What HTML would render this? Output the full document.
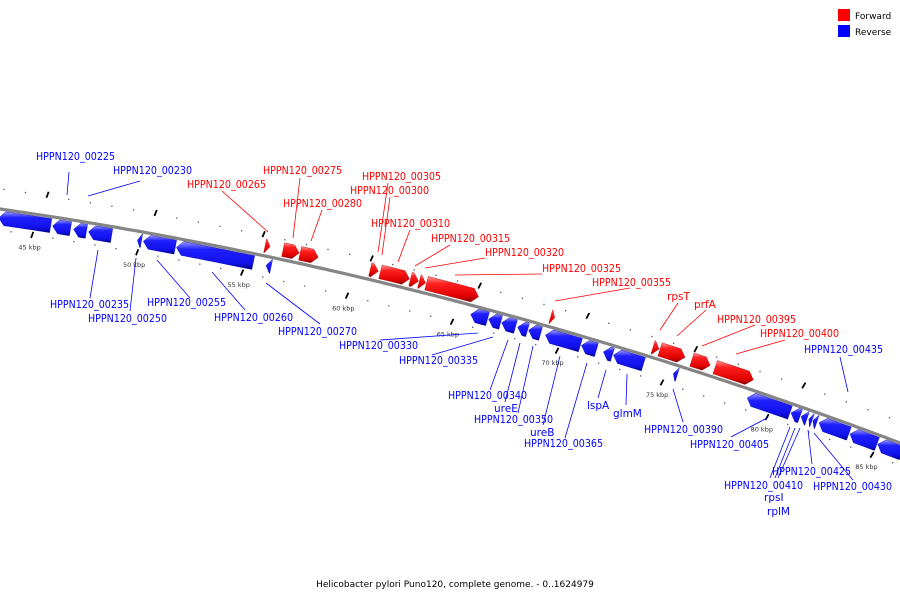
<!DOCTYPE html>
<html><head><meta charset="utf-8">
<style>
html,body{margin:0;padding:0;background:#fff;}
svg{display:block;font-family:"DejaVu Sans","Liberation Sans",sans-serif;}
</style></head>
<body>
<svg id="map" width="900" height="600" viewBox="0 0 900 600">
<defs>
<linearGradient id="gRed" x1="0" y1="0" x2="0" y2="1">
<stop offset="0" stop-color="#ff9a9a"/><stop offset="0.28" stop-color="#ff2020"/><stop offset="0.78" stop-color="#e00000"/><stop offset="1" stop-color="#800000"/>
</linearGradient>
<linearGradient id="gBlue" x1="0" y1="0" x2="0" y2="1">
<stop offset="0" stop-color="#9a9aff"/><stop offset="0.28" stop-color="#2020ff"/><stop offset="0.78" stop-color="#1010e8"/><stop offset="1" stop-color="#000080"/>
</linearGradient>
</defs>
<g id="ticks"></g>
<path id="backbone" fill="none" stroke="#858585" stroke-width="3.2"/>
<g id="genes"></g>
<g id="labels"></g>
<g>
<rect x="838" y="9" width="12" height="12" fill="#ff0000"/>
<text x="855" y="19" font-size="9" fill="#000">Forward</text>
<rect x="838" y="25" width="12" height="12" fill="#0000ff"/>
<text x="855" y="35" font-size="9" fill="#000">Reverse</text>
</g>
<text x="455" y="587" font-size="9" text-anchor="middle" fill="#000">Helicobacter pylori Puno120, complete genome. - 0..1624979</text>
</svg>
<script>
const tickKbp = [45,50,55,60,65,70,75,80,85];
const tickLabels = ["45 kbp","50 kbp","55 kbp","60 kbp","65 kbp","70 kbp","75 kbp","80 kbp","85 kbp"];
const fwdStart = [55.81,56.66,57.46,60.78,61.26,62.68,63.10,63.44,69.31,74.15,74.48,75.99,77.09];
const fwdEnd   = [56.04,57.42,58.32,61.16,62.63,63.06,63.39,65.90,69.50,74.43,75.66,76.85,78.89];
const revStart = [43.34,45.90,46.90,47.61,49.93,50.21,51.78,56.04,65.76,66.61,67.23,67.99,68.51,69.31,71.02,72.06,72.54,75.38,78.89,80.97,81.45,81.82,82.01,82.30,83.77,85.09];
const revEnd   = [45.81,46.75,47.51,48.70,50.12,51.73,55.43,56.28,66.56,67.18,67.89,68.46,69.08,70.97,71.73,72.49,73.96,75.57,80.92,81.40,81.73,81.97,82.20,83.72,85.05,86.23];
const labelText = ["HPPN120_00225","HPPN120_00230","HPPN120_00265","HPPN120_00275","HPPN120_00280","HPPN120_00305","HPPN120_00300","HPPN120_00310","HPPN120_00315","HPPN120_00320","HPPN120_00325","HPPN120_00355","rpsT","prfA","HPPN120_00395","HPPN120_00400","HPPN120_00435","HPPN120_00235","HPPN120_00250","HPPN120_00255","HPPN120_00260","HPPN120_00270","HPPN120_00330","HPPN120_00335","HPPN120_00340","ureE","HPPN120_00350","ureB","HPPN120_00365","lspA","glmM","HPPN120_00390","HPPN120_00405","HPPN120_00410","rpsI","rplM","HPPN120_00425","HPPN120_00430"];
const labelRed = [0,0,1,1,1,1,1,1,1,1,1,1,1,1,1,1,0,0,0,0,0,0,0,0,0,0,0,0,0,0,0,0,0,0,0,0,0,0];
const labelLayout = [
[36,160,69,172,67,195],[113,174,88,196,140,181],[187,188,222,191,268,232],[263,174,300,178,293,238],[283,207,322,210,311,241],
[362,180,388,183,378,252],[350,194,390,197,382,255],[371,227,410,230,398,262],[431,242,450,245,415,266],[485,256,485,258,425,268],
[542,272,542,274,455,275],[592,286,630,288,555,301],[667,300,678,303,660,330],[694,308,706,310,677,336],[717,323,755,325,702,346],
[760,337,785,340,736,354],[804,353,840,357,848,392],[50,308,90,298,98,250],[88,322,130,311,136,258],[147,306,190,298,157,260],
[214,321,245,310,212,272],[278,335,320,324,266,283],[339,349,380,340,478,333],[399,364,432,355,493,337],[448,399,490,390,508,340],
[494,412,505,402,520,343],[474,423,518,413,533,346],[530,436,543,425,560,356],[524,447,565,438,587,363],[587,409,598,398,606,370],
[613,417,626,405,627,374],[644,433,683,422,673,389],[690,448,731,437,767,418],[724,489,770,478,790,427],[764,501,775,478,795,428],
[767,515,778,478,800,428],[772,475,812,464,808,430],[813,490,853,480,814,433]];

const NS='http://www.w3.org/2000/svg';
function yCurve(x){return 209+0.1427*x+1.303e-4*x*x;}
function slope(x){return 0.1427+2*1.303e-4*x;}
function pt(x,o){const t=Math.atan(slope(x));return [x-o*Math.sin(t), yCurve(x)+o*Math.cos(t)];}
function xScale(k){return 35+(k-45)*21.1;}
function mk(tag,attrs,parent){const e=document.createElementNS(NS,tag);for(const a in attrs)e.setAttribute(a,attrs[a]);parent.appendChild(e);return e;}

let d='';for(let x=-5;x<=905;x+=5){const p=pt(x,0);d+=(x===-5?'M':'L')+p[0].toFixed(1)+','+p[1].toFixed(1);}
document.getElementById('backbone').setAttribute('d',d);

const tg=document.getElementById('ticks');
for(let j=-2;j<45;j++){
  const xa=44+j*21.5;
  if(xa>-5&&xa<905){
    if(j%5===0){const a=pt(xa,-24),b=pt(xa,-18);const l=mk('line',{x1:a[0]+1,y1:a[1],x2:b[0]-0.3,y2:b[1],stroke:'#000','stroke-width':1.8},tg);
      }
    else{const a=pt(xa,-20);const c=mk('rect',{x:a[0]-0.6,y:a[1]-0.6,width:1.3,height:1.3,fill:'#555'},tg);
      }
  }
}
for(let j=-2;j<45;j++){
  const k=45+j; const xb=xScale(k);
  if(xb<-5||xb>905)continue;
  const ti=tickKbp.indexOf(k);
  if(ti>=0){const a=pt(xb,18),b=pt(xb,24);const l=mk('line',{x1:a[0]+1,y1:a[1],x2:b[0]-0.3,y2:b[1],stroke:'#000','stroke-width':1.8},tg);
    
    const c=pt(xb,36);const t=mk('text',{x:c[0],y:c[1],'font-size':6.5,'text-anchor':'middle',fill:'#333'},tg);t.textContent=tickLabels[ti];
    }
  else{const a=pt(xb,21);const c=mk('rect',{x:a[0]-0.6,y:a[1]-0.6,width:1.3,height:1.3,fill:'#555'},tg);
    }
}

const gg=document.getElementById('genes');
function gene(k1,k2,fwd){
  const x1=xScale(k1),x2=xScale(k2);
  const o1=fwd?-17:2,o2=fwd?-3:16,om=(o1+o2)/2;
  const tip=Math.min(6,(x2-x1)*0.9);
  const top=[],bot=[];
  const bs=fwd?x1:x1+tip, be=fwd?x2-tip:x2;
  const n=Math.max(2,Math.ceil((be-bs)/6));
  for(let i=0;i<=n;i++){const x=bs+(be-bs)*i/n;top.push(pt(x,o1));bot.push(pt(x,o2));}
  let pts;
  if(fwd){pts=top.concat([pt(x2,om)]).concat(bot.reverse());}
  else{pts=[pt(x1,om)].concat(top).concat(bot.reverse());}
  return mk('polygon',{points:pts.map(q=>q[0].toFixed(1)+','+q[1].toFixed(1)).join(' '),fill:fwd?'url(#gRed)':'url(#gBlue)',stroke:fwd?'#b00000':'#0000b0','stroke-width':0.4},gg);
}
for(let i=0;i<fwdStart.length;i++){const p=gene(fwdStart[i],fwdEnd[i],true);
  }
for(let i=0;i<revStart.length;i++){const p=gene(revStart[i],revEnd[i],false);
  }

const lg=document.getElementById('labels');
for(let i=0;i<labelText.length;i++){
  const L=labelLayout[i],col=labelRed[i]?'#ff0000':'#0000ff';
  const ln=mk('line',{x1:L[2],y1:L[3],x2:L[4],y2:L[5],stroke:col,'stroke-width':0.8},lg);
  
  const attrs={x:L[0],y:L[1],'font-size':10.5,fill:col};
  if(labelText[i].length>=10){attrs.textLength=(labelText[i].length*6.08).toFixed(1);attrs.lengthAdjust='spacingAndGlyphs';}
  const t=mk('text',attrs,lg);
  t.textContent=labelText[i];
  
}
</script>
</body></html>
